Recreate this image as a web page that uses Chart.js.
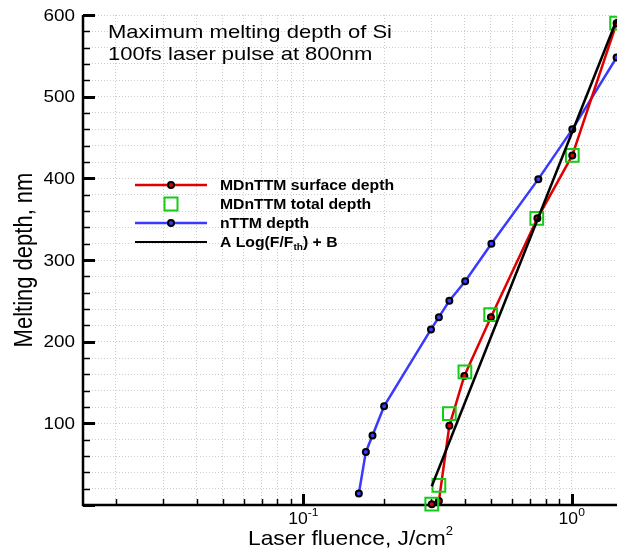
<!DOCTYPE html>
<html>
<head>
<meta charset="utf-8">
<title>Maximum melting depth of Si</title>
<script src="https://cdn.jsdelivr.net/npm/chart.js@4.4.1/dist/chart.umd.min.js"></script>
<style>
  html, body { margin: 0; padding: 0; background: #fff; overflow: hidden; }
  #wrap { width: 617px; height: 550px; }
</style>
</head>
<body>
<div id="wrap"><canvas id="meltChart" width="617" height="550"></canvas></div>
<script>
// Values: fluence in J/cm^2, depth in nm
const nttmFluence = [0.161, 0.171, 0.181, 0.200, 0.299, 0.320, 0.350, 0.401, 0.502, 0.751, 1.005, 1.47];
const nttmDepth   = [14, 65, 85, 121, 215, 230, 250, 274, 320, 399, 460, 548];

const surfFluence = [0.301, 0.320, 0.350, 0.398, 0.500, 0.745, 1.005, 1.47];
const surfDepth   = [1, 5, 97, 158, 230, 351, 428, 590];

const totalFluence = [0.301, 0.320, 0.350, 0.400, 0.499, 0.741, 1.005, 1.47];
const totalDepth   = [1, 24, 112, 163, 233, 351, 428, 590];

const fitFluence = [0.301, 1.475];
const fitDepth   = [23, 595];

const legendLabels = ['MDnTTM surface depth', 'MDnTTM total depth', 'nTTM depth'];
const titleLines = ['Maximum melting depth of Si', '100fs laser pulse at 800nm'];

const yTickValues = [100, 200, 300, 400, 500, 600];
const yTickLabels = ['100', '200', '300', '400', '500', '600'];
const xTickValues = [0.1, 1];
const xTickBase = ['10', '10'];
const xTickExp = ['-1', '0'];

const RED = '#e00000';
const BLUE = '#3a3aff';
const GREEN = '#14cc14';
const FONT = "'Liberation Sans', Arial, sans-serif";

const toPoints = (xs, ys) => xs.map((x, i) => ({ x: x, y: ys[i] }));

// gridline / minor tick positions on the log axis (1..9 per decade)
const xGridValues = [];
[-2, -1, 0].forEach(e => {
  for (let m = 1; m <= 9; m++) xGridValues.push(m * Math.pow(10, e));
});

function stretchText(ctx, str, x, y, font, sx, align) {
  ctx.save();
  ctx.font = font;
  ctx.textAlign = align || 'left';
  ctx.textBaseline = 'alphabetic';
  ctx.translate(x, y);
  ctx.scale(sx, 1);
  ctx.fillText(str, 0, 0);
  ctx.restore();
}

function widthOf(ctx, str, font) {
  ctx.font = font;
  return ctx.measureText(str).width;
}

function dot(ctx, x, y, fill) {
  ctx.beginPath();
  ctx.arc(x, y, 3, 0, Math.PI * 2);
  ctx.fillStyle = fill;
  ctx.fill();
  ctx.lineWidth = 2;
  ctx.strokeStyle = '#000';
  ctx.stroke();
}

// axes, inward ticks and all the text
const overlay = {
  id: 'overlay',
  beforeDatasetsDraw(chart) {
    const { ctx, chartArea: a, scales: { x, y } } = chart;
    ctx.save();
    ctx.strokeStyle = '#000';
    ctx.lineCap = 'butt';

    y.ticks.forEach(t => {
      const py = Math.round(y.getPixelForValue(t.value)) + 0.5;
      const major = t.value % 100 === 0;
      ctx.lineWidth = major ? 3 : 1.5;
      ctx.beginPath();
      ctx.moveTo(a.left, py);
      ctx.lineTo(a.left + (major ? 12 : 7), py);
      ctx.stroke();
    });

    x.ticks.forEach(t => {
      const px = Math.round(x.getPixelForValue(t.value)) + 0.5;
      const major = Math.abs(Math.log10(t.value) - Math.round(Math.log10(t.value))) < 1e-9;
      ctx.lineWidth = major ? 3 : 1.5;
      ctx.beginPath();
      ctx.moveTo(px, a.bottom);
      ctx.lineTo(px, a.bottom - (major ? 11 : 6));
      ctx.stroke();
    });

    ctx.lineWidth = 2.5;
    ctx.beginPath();
    ctx.moveTo(a.left, a.top);
    ctx.lineTo(a.left, a.bottom);
    ctx.lineTo(a.right, a.bottom);
    ctx.stroke();
    ctx.restore();
  },
  afterDraw(chart) {
    const { ctx, chartArea: a, scales: { x, y } } = chart;
    ctx.save();
    ctx.fillStyle = '#000';

    // y tick labels
    yTickValues.forEach((v, i) => {
      const py = y.getPixelForValue(v);
      stretchText(ctx, yTickLabels[i], a.left - 8, py + 5.7, '16px ' + FONT, 1.18, 'right');
    });

    // x tick labels with superscript exponent
    xTickValues.forEach((v, i) => {
      const px = x.getPixelForValue(v);
      const sx = 1.1;
      const wb = widthOf(ctx, xTickBase[i], '16px ' + FONT) * sx;
      const we = widthOf(ctx, xTickExp[i], '11px ' + FONT) * sx;
      const left = px - (wb + we) / 2;
      stretchText(ctx, xTickBase[i], left, 524, '16px ' + FONT, sx);
      stretchText(ctx, xTickExp[i], left + wb, 516, '11px ' + FONT, sx);
    });

    // x axis title
    const xt = 'Laser fluence, J/cm';
    const xtFont = '21px ' + FONT;
    const supFont = '12px ' + FONT;
    const rawW = widthOf(ctx, xt, xtFont) + widthOf(ctx, '2', supFont);
    const xsx = 205 / rawW;
    const xtLeft = 248;
    stretchText(ctx, xt, xtLeft, 545, xtFont, xsx);
    stretchText(ctx, '2', xtLeft + widthOf(ctx, xt, xtFont) * xsx, 535, supFont, xsx);

    // y axis title
    ctx.save();
    ctx.translate(32, (a.top + a.bottom) / 2);
    ctx.rotate(-Math.PI / 2);
    ctx.scale(1, 1.15);
    ctx.font = '22px ' + FONT;
    ctx.textAlign = 'center';
    ctx.fillText('Melting depth, nm', 0, 0);
    ctx.restore();

    // text block in the top left corner
    const tFont = '19px ' + FONT;
    const tsx = 284 / widthOf(ctx, titleLines[0], tFont);
    stretchText(ctx, titleLines[0], 108, 37.7, tFont, tsx);
    stretchText(ctx, titleLines[1], 108, 60, tFont, tsx);

    // legend
    const lFont = 'bold 14px ' + FONT;
    const lsx = 174 / widthOf(ctx, legendLabels[0], lFont);
    const rows = [185, 204, 223, 242];
    const x0 = 135, x1 = 207, xm = 171, tx = 220;

    ctx.lineWidth = 2.5;
    ctx.strokeStyle = RED;
    ctx.beginPath(); ctx.moveTo(x0, rows[0]); ctx.lineTo(x1, rows[0]); ctx.stroke();
    dot(ctx, xm, rows[0], RED);

    ctx.lineWidth = 2;
    ctx.strokeStyle = GREEN;
    ctx.strokeRect(xm - 6.5, rows[1] - 6.5, 13, 13);

    ctx.lineWidth = 2.5;
    ctx.strokeStyle = BLUE;
    ctx.beginPath(); ctx.moveTo(x0, rows[2]); ctx.lineTo(x1, rows[2]); ctx.stroke();
    dot(ctx, xm, rows[2], BLUE);

    ctx.strokeStyle = '#000';
    ctx.beginPath(); ctx.moveTo(x0, rows[3]); ctx.lineTo(x1, rows[3]); ctx.stroke();

    ctx.fillStyle = '#000';
    legendLabels.forEach((s, i) => stretchText(ctx, s, tx, rows[i] + 5, lFont, lsx));

    // "A Log(F/F_th) + B"
    let cx = tx;
    const part1 = 'A Log(F/F', part2 = 'th', part3 = ') + B';
    const subFont = 'bold 9px ' + FONT;
    stretchText(ctx, part1, cx, rows[3] + 5, lFont, lsx);
    cx += widthOf(ctx, part1, lFont) * lsx;
    stretchText(ctx, part2, cx, rows[3] + 8, subFont, lsx);
    cx += widthOf(ctx, part2, subFont) * lsx;
    stretchText(ctx, part3, cx, rows[3] + 5, lFont, lsx);

    ctx.restore();
  }
};

document.addEventListener('DOMContentLoaded', () => {
  const ctx = document.getElementById('meltChart').getContext('2d');

  new Chart(ctx, {
    type: 'scatter',
    data: {
      datasets: [
        {
          label: 'A Log(F/Fth) + B',
          data: toPoints(fitFluence, fitDepth),
          showLine: true,
          borderColor: '#000',
          borderWidth: 2.5,
          pointRadius: 0,
          clip: false,
          order: 0
        },
        {
          label: legendLabels[1],
          data: toPoints(totalFluence, totalDepth),
          showLine: false,
          pointStyle: 'rect',
          pointRadius: 9,
          pointBorderWidth: 2,
          pointBorderColor: GREEN,
          pointBackgroundColor: 'rgba(0,0,0,0)',
          clip: false,
          order: 1
        },
        {
          label: legendLabels[0],
          data: toPoints(surfFluence, surfDepth),
          showLine: true,
          borderColor: RED,
          borderWidth: 2.5,
          pointRadius: 3,
          pointBorderWidth: 2,
          pointBorderColor: '#000',
          pointBackgroundColor: RED,
          clip: false,
          order: 2
        },
        {
          label: legendLabels[2],
          data: toPoints(nttmFluence, nttmDepth),
          showLine: true,
          borderColor: BLUE,
          borderWidth: 2.5,
          pointRadius: 3,
          pointBorderWidth: 2,
          pointBorderColor: '#000',
          pointBackgroundColor: BLUE,
          clip: false,
          order: 3
        }
      ]
    },
    options: {
      responsive: false,
      animation: false,
      layout: { autoPadding: false, padding: { top: 15, right: 0, bottom: 0, left: 0 } },
      plugins: {
        legend: { display: false },
        tooltip: { enabled: false }
      },
      scales: {
        x: {
          type: 'logarithmic',
          position: 'bottom',
          bounds: 'data',
          min: 0.0151,
          max: 1.475,
          afterBuildTicks: scale => {
            scale.ticks = xGridValues
              .filter(v => v >= scale.min && v <= scale.max)
              .map(v => ({ value: v }));
          },
          afterFit: scale => { scale.height = 45; },
          ticks: { display: false },
          grid: { color: '#cdcdcd', lineWidth: 1, drawTicks: false },
          border: { display: false, dash: [1, 2] }
        },
        y: {
          type: 'linear',
          position: 'left',
          min: 0,
          max: 600,
          afterFit: scale => { scale.width = 83; },
          ticks: { display: false, stepSize: 20 },
          grid: { color: '#cdcdcd', lineWidth: 1, drawTicks: false },
          border: { display: false, dash: [1, 2] }
        }
      }
    },
    plugins: [overlay]
  });
});
</script>
</body>
</html>
